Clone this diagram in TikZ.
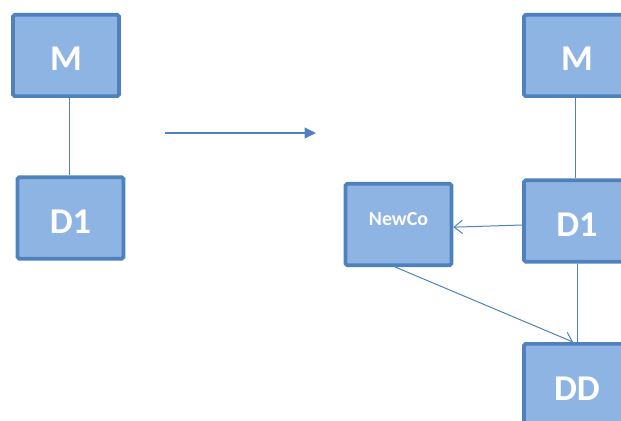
\documentclass[tikz,border=0pt]{standalone}
\usepackage{fontspec}
\setmainfont{Carlito}
\usetikzlibrary{arrows.meta}
\usetikzlibrary{positioning}

\definecolor{boxfill}{HTML}{8EB4E3}
\definecolor{boxline}{HTML}{4F81BD}

\begin{document}
\begin{tikzpicture}[x=0.3mm,y=-0.3mm,
  entity/.style={draw=boxline, fill=boxfill, line width=1.1mm, rounded corners=0.5mm,
    minimum width=31.8mm, minimum height=24.4mm, text=white,
    text height=9.3mm, text depth=0pt,
    font=\bfseries\fontsize{31}{31}\selectfont},
  smallentity/.style={entity, text height=3.9mm, text depth=3.6mm,
    font=\bfseries\fontsize{17}{17}\selectfont},
  link/.style={draw=boxline, line width=0.3mm},
  flow/.style={link, -{Straight Barb[length=2.5mm,width=4mm]}},
  step arrow/.style={draw=boxline, line width=0.6mm, -{Triangle[length=3.4mm,width=3.2mm]}}]

  % page frame, the boxes on the right run off the edge
  \path[use as bounding box, clip] (0,0) rectangle (621,421);

  % before
  \node[entity] (Mold) at (66,55.5) {M};
  \node[entity] (Dold) at (70.5,218) {D1};
  \draw[link] ([xshift=0.9mm]Mold.south) -- ([xshift=-0.45mm]Dold.north);

  % transition
  \coordinate (before) at (165,133);
  \coordinate (after) at (316,133);
  \draw[step arrow] (before) -- (after);

  % after
  \node[entity] (Mnew) at (577,55.5) {M};
  \node[entity] (Dnew) at (577,221) {D1};
  \node[smallentity] (NewCo) at (398.5,224.5) {NewCo};
  \node[entity] (DD) at (577,384.5) {DD};

  \draw[link] ([xshift=-0.6mm]Mnew.south) -- ([xshift=-0.6mm]Dnew.north);
  \draw[link] (Dnew.south) -- (DD.north);
  \draw[flow] ([yshift=-1.2mm]Dnew.west) -- ([yshift=-0.8mm]NewCo.east);
  \draw[flow] ([xshift=-1mm]NewCo.south) -- ([xshift=-1.2mm]DD.north);

\end{tikzpicture}
\end{document}
